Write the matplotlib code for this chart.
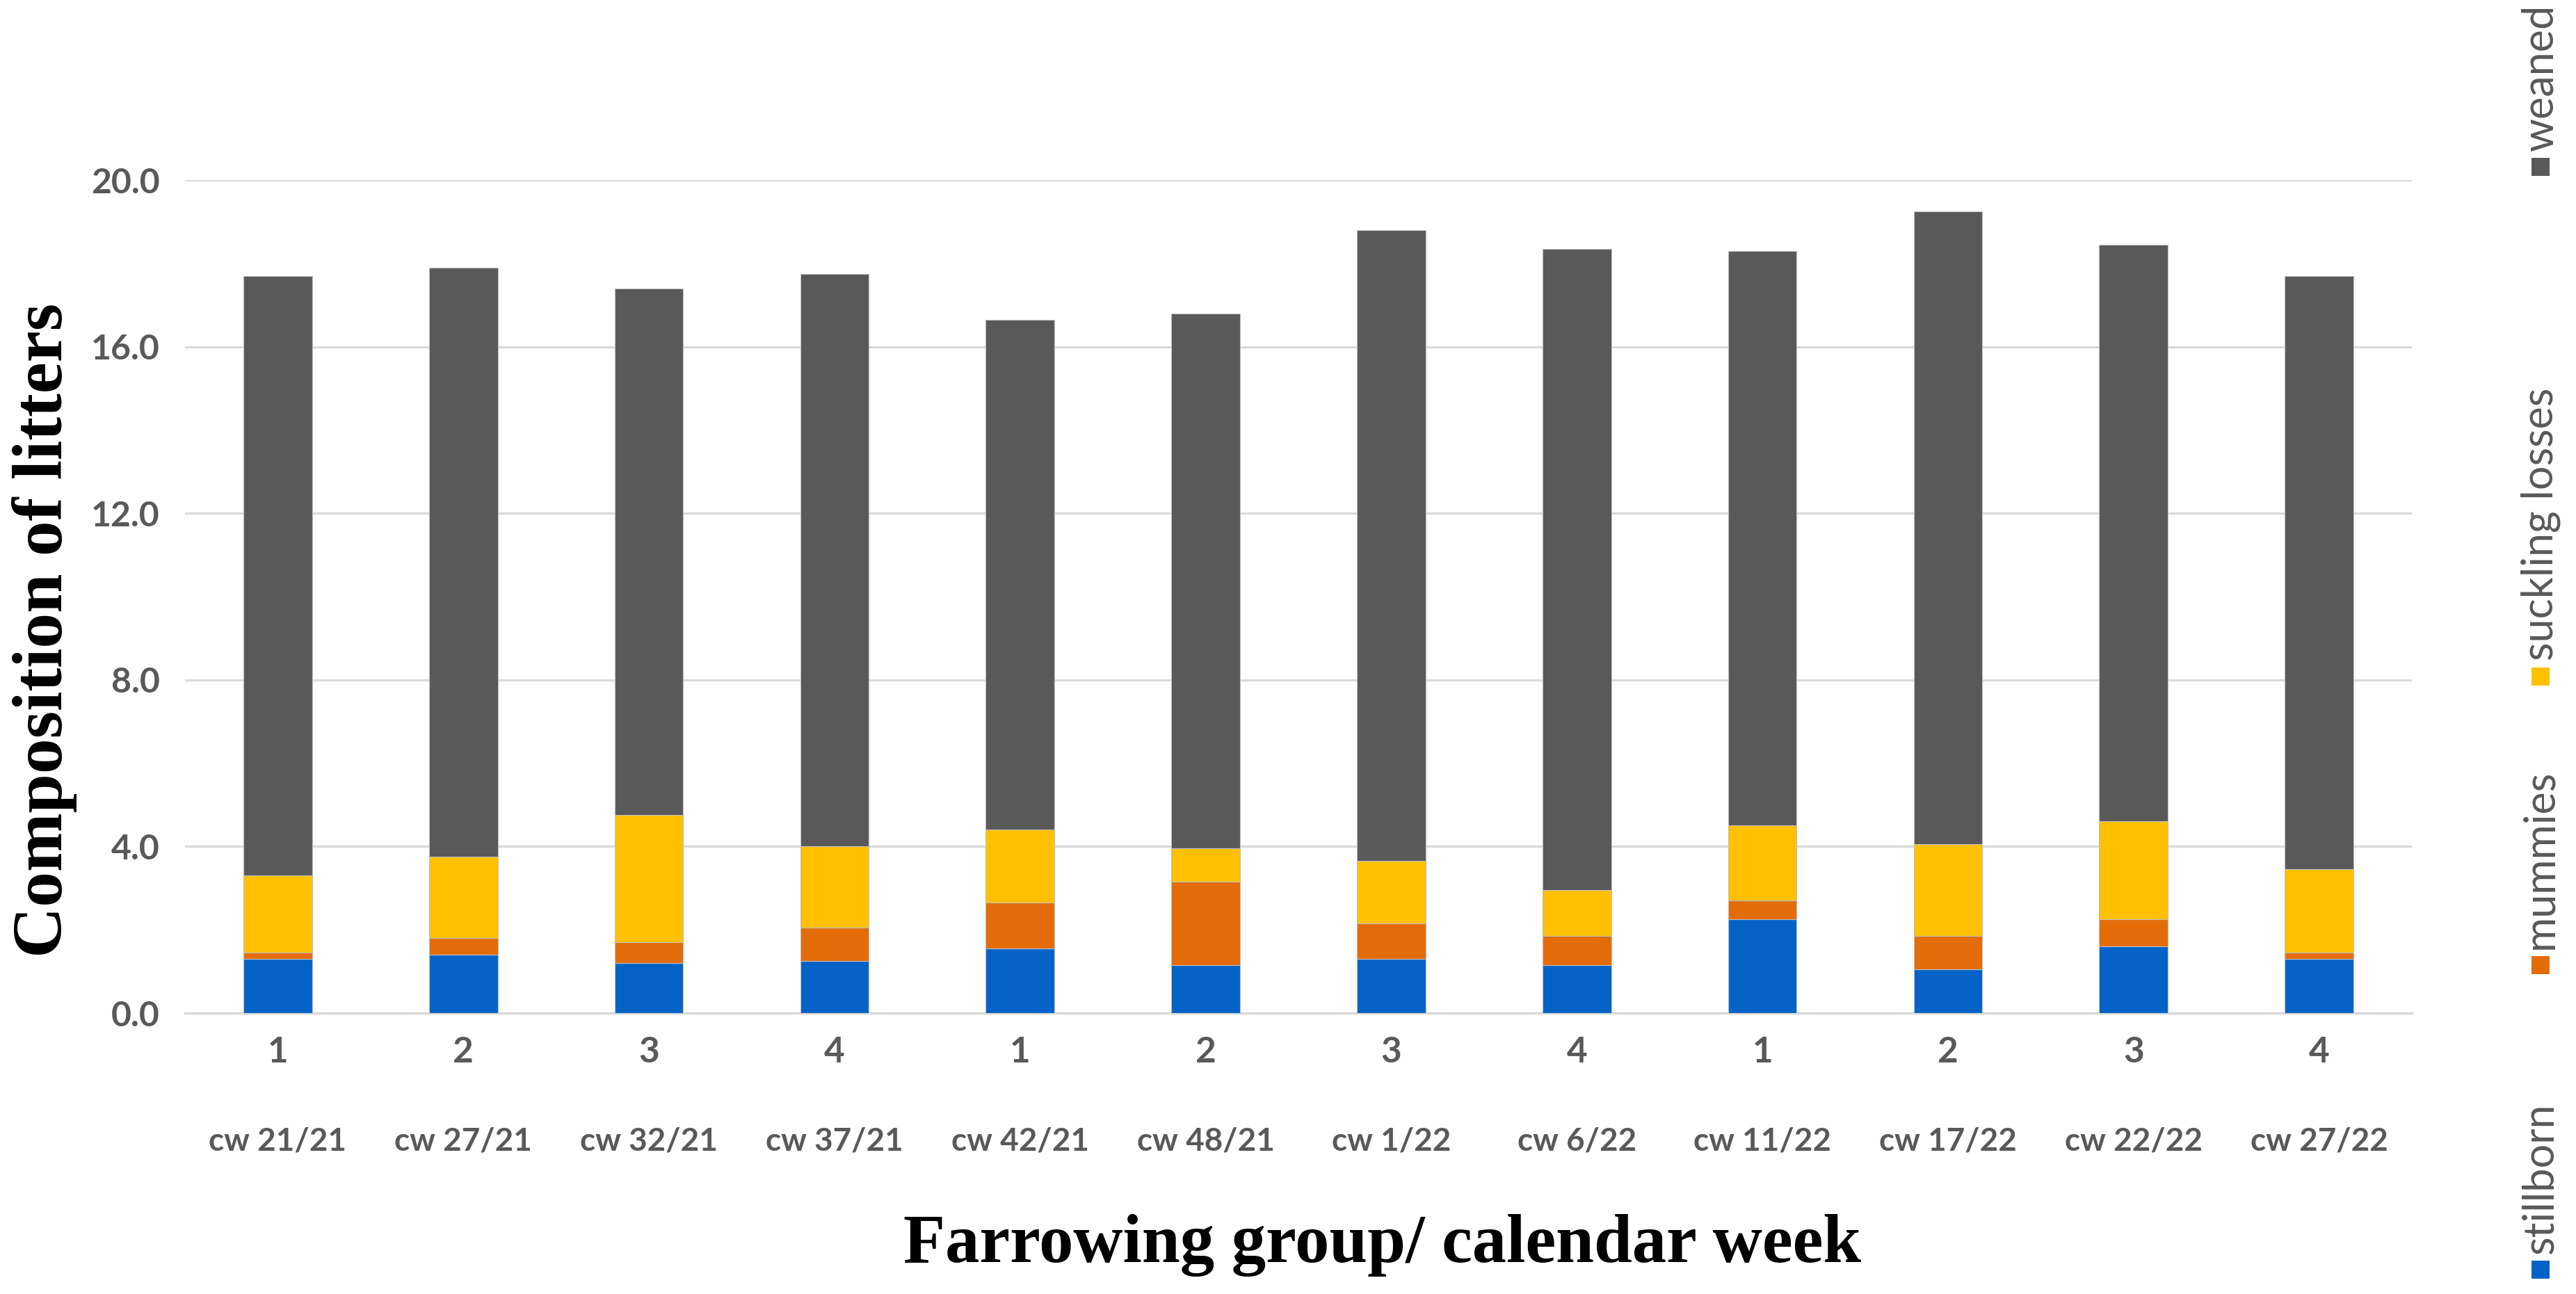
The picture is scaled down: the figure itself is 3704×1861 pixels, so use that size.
import matplotlib
matplotlib.use("Agg")
import matplotlib.pyplot as plt
from matplotlib.patches import Rectangle
import numpy as np

groups = ["1", "2", "3", "4", "1", "2", "3", "4", "1", "2", "3", "4"]
weeks = ["cw 21/21", "cw 27/21", "cw 32/21", "cw 37/21", "cw 42/21", "cw 48/21",
         "cw 1/22", "cw 6/22", "cw 11/22", "cw 17/22", "cw 22/22", "cw 27/22"]

# cumulative tops
top_stillborn = [1.30, 1.40, 1.20, 1.25, 1.55, 1.15, 1.30, 1.15, 2.25, 1.05, 1.60, 1.30]
top_mummies   = [1.45, 1.80, 1.70, 2.05, 2.65, 3.15, 2.15, 1.85, 2.70, 1.85, 2.25, 1.45]
top_suckling  = [3.30, 3.75, 4.75, 4.00, 4.40, 3.95, 3.65, 2.95, 4.50, 4.05, 4.60, 3.45]
top_total     = [17.70, 17.90, 17.40, 17.75, 16.65, 16.80, 18.80, 18.35, 18.30, 19.25, 18.45, 17.70]

stillborn = np.array(top_stillborn)
mummies = np.array(top_mummies) - np.array(top_stillborn)
suckling = np.array(top_suckling) - np.array(top_mummies)
weaned = np.array(top_total) - np.array(top_suckling)

series_names = ["stillborn", "mummies", "suckling losses", "weaned"]
series_colors = ["#0563C8", "#E36C09", "#FFC000", "#595959"]
series_values = [stillborn, mummies, suckling, weaned]

yticks = [0, 4, 8, 12, 16, 20]

W, H = 3704, 1861
fig = plt.figure(figsize=(W / 100, H / 100), dpi=100)
ax = fig.add_axes([266 / W, 1 - 1457 / H, (3468 - 266) / W, (1457 - 259) / H])

x = np.arange(len(groups))
bottom = np.zeros(len(groups))
for name, col, vals in zip(series_names, series_colors, series_values):
    ax.bar(x, vals, bottom=bottom, width=0.37, color=col, edgecolor="#BFBFBF",
           linewidth=0.8, zorder=3, label=name)
    bottom = bottom + vals

ax.set_xlim(-0.5, len(groups) - 0.5)
ax.set_ylim(0, 20)
ax.set_yticks(yticks)
ax.set_yticklabels([f"{v:.1f}" for v in yticks], fontfamily="Lato",
                   fontweight="bold", fontsize=36, color="#595959")
ax.tick_params(axis="y", length=0, pad=26)
ax.set_xticks([])
ax.grid(axis="y", color="#D9D9D9", linewidth=2.2, zorder=0)
for s in ["top", "right", "left"]:
    ax.spines[s].set_visible(False)
ax.spines["bottom"].set_color("#D9D9D9")
ax.spines["bottom"].set_linewidth(2.5)

tr = ax.get_xaxis_transform()
for i, (g, wk) in enumerate(zip(groups, weeks)):
    ax.text(i, -0.047, g, transform=tr, ha="center", va="center",
            fontfamily="Lato", fontweight="bold", fontsize=37, color="#595959")
    ax.text(i, -0.154, wk, transform=tr, ha="center", va="center",
            fontfamily="Lato", fontweight="bold", fontsize=33, color="#595959")

fig.text(64 / W, 1 - 906 / H, "Composition of litters", rotation=90,
         ha="center", va="center", fontfamily="Liberation Serif",
         fontweight="bold", fontsize=73, color="black")
fig.text(1988 / W, 1 - 1791 / H, "Farrowing group/ calendar week",
         ha="center", va="center", fontfamily="Liberation Serif",
         fontweight="bold", fontsize=71, color="black")

# vertical legend on the right
leg_x = 3653
leg_sq = [1826, 1388, 973, 240]
sq = 26
for name, col, ysq in zip(series_names, series_colors, leg_sq):
    fig.patches.append(Rectangle(((leg_x - sq / 2) / W, 1 - (ysq + sq / 2) / H),
                                 sq / W, sq / H, transform=fig.transFigure,
                                 facecolor=col, edgecolor="none"))
    fig.text(leg_x / W, 1 - (ysq - sq / 2 - 10) / H, name, rotation=90,
             rotation_mode="anchor", ha="left", va="center",
             fontfamily="Lato", fontsize=44, color="#595959")

fig.savefig("out.png", dpi=100, facecolor="white")
